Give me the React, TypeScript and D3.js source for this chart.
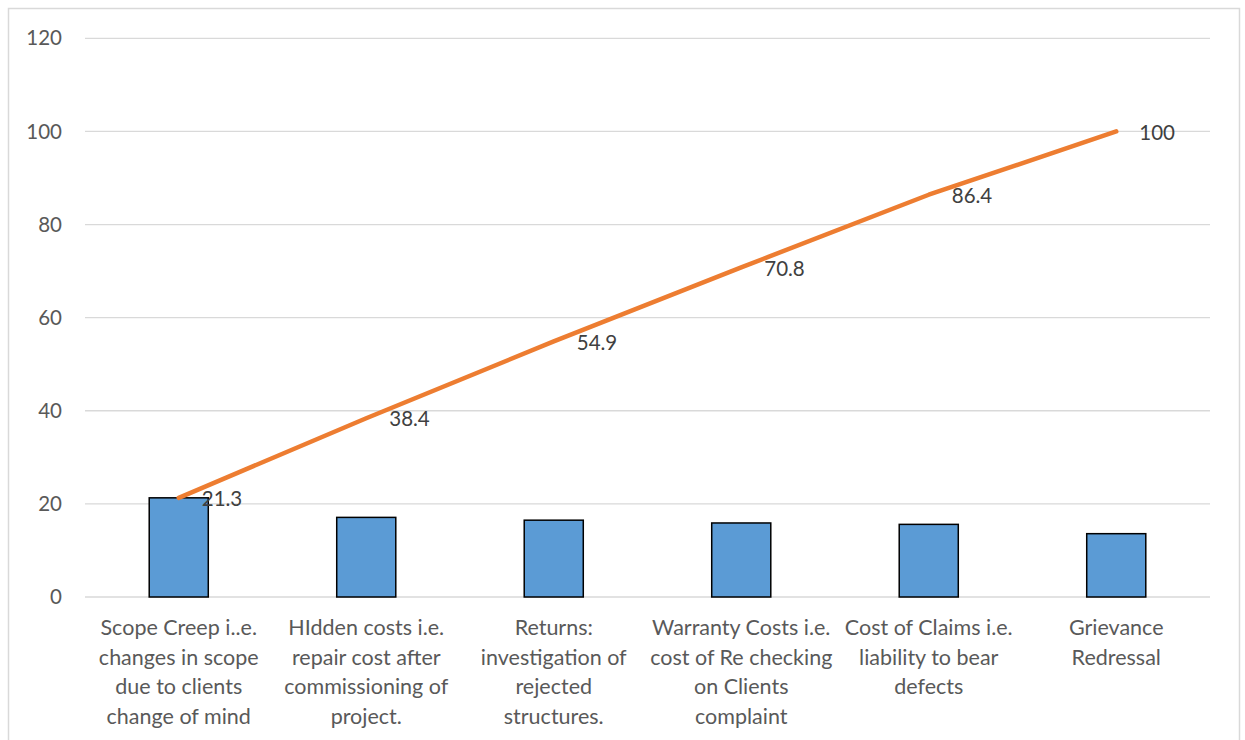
import React, { useEffect, useRef } from "react";
import * as d3 from "d3";

const categories: string[][] = [
  ["Scope Creep i..e.", "changes in scope", "due to clients", "change of mind"],
  ["HIdden costs i.e.", "repair cost after", "commissioning of", "project."],
  ["Returns:", "investigation of", "rejected", "structures."],
  ["Warranty Costs i.e.", "cost of Re checking", "on Clients", "complaint"],
  ["Cost of Claims i.e.", "liability to bear", "defects"],
  ["Grievance", "Redressal"],
];
const barValues: number[] = [21.3, 17.1, 16.5, 15.9, 15.6, 13.6];
const cumulativeValues: number[] = [21.3, 38.4, 54.9, 70.8, 86.4, 100];
const yTicks: number[] = [0, 20, 40, 60, 80, 100, 120];

const W = 1245;
const H = 740;
const FONT = "Lato, 'Open Sans', sans-serif";

export default function App() {
  const ref = useRef<SVGSVGElement>(null);
  useEffect(() => {
    const svg = d3.select(ref.current);
    svg.selectAll("*").remove();
    const left = 85, right = 1210, top = 38.3, bottom = 597;
    const x = d3.scaleBand<number>().domain(d3.range(categories.length)).range([left, right]).paddingInner(0.685).paddingOuter(0.3425);
    const y = d3.scaleLinear().domain([0, 120]).range([bottom, top]);

    svg.append("rect").attr("x", 8.5).attr("y", 8.5).attr("width", 1231).attr("height", 760)
      .attr("fill", "white").attr("stroke", "#d9d9d9").attr("stroke-width", 1.5);

    const g = svg.append("g");
    g.selectAll("line.grid").data(yTicks).join("line").attr("class", "grid")
      .attr("x1", left).attr("x2", right).attr("y1", d => y(d)).attr("y2", d => y(d))
      .attr("stroke", "#d9d9d9").attr("stroke-width", 1.3);

    g.selectAll("text.ytick").data(yTicks).join("text").attr("class", "ytick")
      .attr("x", 62).attr("y", d => y(d)).attr("dy", "0.35em").attr("text-anchor", "end")
      .attr("font-family", FONT).attr("font-size", 20.5).attr("fill", "#595959").text(d => String(d));

    g.selectAll("rect.bar").data(barValues).join("rect").attr("class", "bar")
      .attr("x", (_, i) => x(i)!).attr("width", x.bandwidth())
      .attr("y", d => y(d)).attr("height", d => y(0) - y(d))
      .attr("fill", "#5b9bd5").attr("stroke", "#000").attr("stroke-width", 1.5);

    const cx = (i: number) => x(i)! + x.bandwidth() / 2;
    const line = d3.line<number>().x((_, i) => cx(i)).y(d => y(d));
    g.append("path").datum(cumulativeValues).attr("d", line).attr("fill", "none")
      .attr("stroke", "#ed7d31").attr("stroke-width", 4.5).attr("stroke-linecap", "round").attr("stroke-linejoin", "round");

    g.selectAll("text.dl").data(cumulativeValues).join("text").attr("class", "dl")
      .attr("x", (_, i) => cx(i) + 23).attr("y", d => y(d) + 1).attr("dy", "0.35em")
      .attr("font-family", FONT).attr("font-size", 20.5).attr("fill", "#404040").text(d => String(d));

    categories.forEach((lines, i) => {
      const t = g.append("text").attr("font-family", FONT).attr("font-size", 21.5).attr("fill", "#595959")
        .attr("text-anchor", "middle");
      lines.forEach((ln, j) => {
        t.append("tspan").attr("x", cx(i)).attr("y", 635 + j * 29.5).text(ln);
      });
    });
  }, []);
  return (
    <svg ref={ref} width={W} height={H} style={{ position: "absolute", left: 0, top: 0 }} />
  );
}
